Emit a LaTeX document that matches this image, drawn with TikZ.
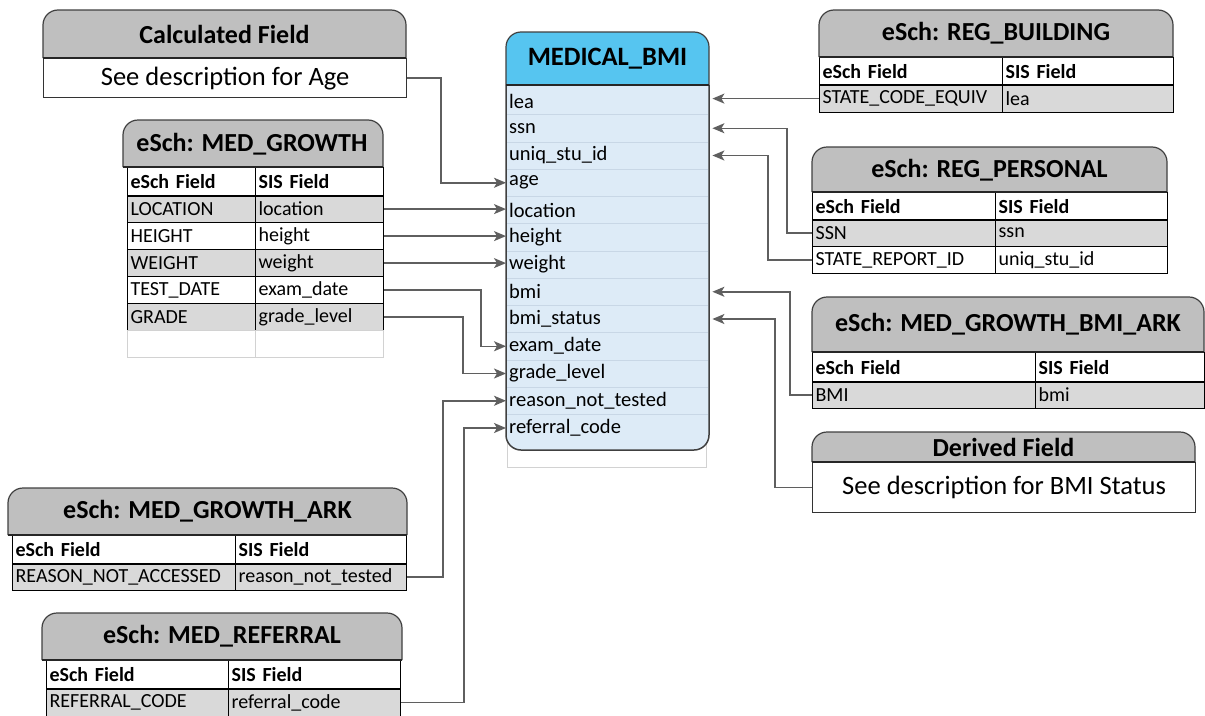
\documentclass[tikz,border=0pt]{standalone}
\usepackage{fontspec}
\setmainfont{Carlito}
\usetikzlibrary{arrows.meta}
\definecolor{hdrgray}{RGB}{191,191,191}
\definecolor{rowgray}{RGB}{217,217,217}
\definecolor{bmiblue}{RGB}{86,197,240}
\definecolor{bmibody}{RGB}{221,235,247}
\definecolor{linkgray}{RGB}{95,95,95}
\definecolor{faintline}{RGB}{210,210,210}
\definecolor{rowline}{RGB}{200,215,230}

\tikzset{
  hdr/.style={draw=black!75, line width=1.2pt, fill=hdrgray, rounded corners=15pt},
  hdrbase/.style={draw=black!85, line width=2pt},
  title/.style={inner sep=0pt, font=\bfseries\fontsize{26}{29}\selectfont},
  cell/.style={draw=black, line width=1.2pt, anchor=north west, minimum height=27pt,
    inner xsep=3pt, inner ysep=0pt, align=left, font=\fontsize{20}{22}\selectfont},
  hcell/.style={cell, fill=white, font=\bfseries\fontsize{20}{22}\selectfont},
  gcell/.style={cell, fill=rowgray},
  wcell/.style={cell, fill=white},
  ecell/.style={cell, draw=faintline},
  note/.style={draw=black!80, line width=1.2pt, fill=white, anchor=north west,
    inner sep=0pt, font=\fontsize{26.5}{29}\selectfont},
  field/.style={anchor=west, minimum height=27.25pt, text width=197pt, inner xsep=3pt,
    inner ysep=0pt, align=left, font=\fontsize{20.5}{22}\selectfont},
  sep/.style={draw=rowline, line width=0.8pt},
  hline/.style={draw=black, line width=2.5pt},
  link/.style={draw=linkgray, line width=1.5pt, -{Stealth[length=12pt,width=10pt,inset=3pt]}},
  rlink/.style={link, shorten >=3pt},
}

\begin{document}
\begin{tikzpicture}[x=1pt, y=-1pt]
  \useasboundingbox (0,0) rectangle (1205,715);

  % Calculated Field
  \draw[hdr] (43,58) -- (43,10) -- (406,10) -- (406,58);
  \node[title] (calcTitle) at (224.5,34) {Calculated Field};
  \node[note, minimum width=363pt, minimum height=39pt] (calcBody) at (43,58) {See description for Age};
  \draw[hdrbase] (43,58) -- (406,58);

  % MED_GROWTH
  \draw[hdr] (123,167) -- (123,120) -- (383,120) -- (383,167);
  \node[title] (growTitle) at (252,144) {eSch: MED\_GROWTH};
  \node[hcell, text width=122pt, minimum height=28pt] (gHeadA) at (127,167) {eSch Field};
  \node[hcell, text width=122pt, minimum height=28pt] (gHeadB) at (255,167) {SIS Field};
  \node[gcell, text width=122pt] (gLocA) at (127,195) {LOCATION};
  \node[gcell, text width=122pt] (gLoc) at (255,195) {location};
  \node[wcell, text width=122pt] (gHgtA) at (127,222) {HEIGHT};
  \node[wcell, text width=122pt] (gHgt) at (255,222) {height};
  \node[gcell, text width=122pt] (gWgtA) at (127,249) {WEIGHT};
  \node[gcell, text width=122pt] (gWgt) at (255,249) {weight};
  \node[wcell, text width=122pt] (gDateA) at (127,276) {TEST\_DATE};
  \node[wcell, text width=122pt] (gDate) at (255,276) {exam\_date};
  \node[gcell, text width=122pt] (gGradeA) at (127,303) {GRADE};
  \node[gcell, text width=122pt] (gGrade) at (255,303) {grade\_level};
  \node[ecell, text width=122pt, line width=0.8pt] (gEmptyA) at (127,330) {};
  \node[ecell, text width=122pt, line width=0.8pt] (gEmpty) at (255,330) {};
  \draw[hdrbase] (123,167) -- (383,167);
  \draw[hline] (gHeadA.south west) -- (gHeadB.south east);

  % MEDICAL_BMI
  \draw[faintline, line width=0.8pt] (507,440) rectangle (706,467);
  \draw[draw=black!75, line width=1.5pt, fill=bmibody, rounded corners=15pt]
    (506,85) -- (506,450) -- (709,450) -- (709,85);
  \draw[hdr, fill=bmiblue] (506,85) -- (506,32) -- (709,32) -- (709,85);
  \draw[hdrbase] (506,85) -- (709,85);
  \node[title, font=\bfseries\fontsize{26.5}{29}\selectfont] (bmiTitle) at (607.5,59) {MEDICAL\_BMI};
  \node[field] (mLea) at (506,101) {lea};
  \node[field] (mSsn) at (506,128.25) {ssn};
  \node[field] (mUniq) at (506,155.5) {uniq\_stu\_id};
  \node[field] (mAge) at (506,182.75) {age};
  \node[field] (mLocation) at (506,210) {location};
  \node[field] (mHeight) at (506,237.25) {height};
  \node[field] (mWeight) at (506,264.5) {weight};
  \node[field] (mBmi) at (506,291.75) {bmi};
  \node[field] (mStatus) at (506,319) {bmi\_status};
  \node[field] (mExam) at (506,346.25) {exam\_date};
  \node[field] (mGrade) at (506,373.5) {grade\_level};
  \node[field] (mReason) at (506,400.75) {reason\_not\_tested};
  \node[field] (mReferral) at (506,428) {referral\_code};
  \draw[sep] (mLea.south west) ++(1,0) -- ([xshift=-1pt]mLea.south east);
  \draw[sep] (mSsn.south west) ++(1,0) -- ([xshift=-1pt]mSsn.south east);
  \draw[sep] (mUniq.south west) ++(1,0) -- ([xshift=-1pt]mUniq.south east);
  \draw[sep] (mAge.south west) ++(1,0) -- ([xshift=-1pt]mAge.south east);
  \draw[sep] (mLocation.south west) ++(1,0) -- ([xshift=-1pt]mLocation.south east);
  \draw[sep] (mHeight.south west) ++(1,0) -- ([xshift=-1pt]mHeight.south east);
  \draw[sep] (mWeight.south west) ++(1,0) -- ([xshift=-1pt]mWeight.south east);
  \draw[sep] (mBmi.south west) ++(1,0) -- ([xshift=-1pt]mBmi.south east);
  \draw[sep] (mStatus.south west) ++(1,0) -- ([xshift=-1pt]mStatus.south east);
  \draw[sep] (mExam.south west) ++(1,0) -- ([xshift=-1pt]mExam.south east);
  \draw[sep] (mGrade.south west) ++(1,0) -- ([xshift=-1pt]mGrade.south east);
  \draw[sep] (mReason.south west) ++(1,0) -- ([xshift=-1pt]mReason.south east);

  % REG_BUILDING
  \draw[hdr] (819,57) -- (819,10) -- (1173,10) -- (1173,57);
  \node[title] (bldgTitle) at (996,33.5) {eSch: REG\_BUILDING};
  \node[hcell, text width=177pt] (bHeadA) at (819,57) {eSch Field};
  \node[hcell, text width=165pt] (bHeadB) at (1002,57) {SIS Field};
  \node[gcell, text width=177pt, minimum height=28pt] (bCodeA) at (819,84) {STATE\_CODE\_EQUIV};
  \node[gcell, text width=165pt, minimum height=28pt] (bCode) at (1002,84) {lea};
  \draw[hdrbase] (819,57) -- (1173,57);
  \draw[hline] (bHeadA.south west) -- (bHeadB.south east);

  % REG_PERSONAL
  \draw[hdr] (812,192) -- (812,147) -- (1167,147) -- (1167,192);
  \node[title] (persTitle) at (989.5,170) {eSch: REG\_PERSONAL};
  \node[hcell, text width=177pt] (pHeadA) at (812,192) {eSch Field};
  \node[hcell, text width=166pt] (pHeadB) at (995,192) {SIS Field};
  \node[gcell, text width=177pt] (pSsnA) at (812,219) {SSN};
  \node[gcell, text width=166pt] (pSsn) at (995,219) {ssn};
  \node[wcell, text width=177pt] (pIdA) at (812,246) {STATE\_REPORT\_ID};
  \node[wcell, text width=166pt] (pId) at (995,246) {uniq\_stu\_id};
  \draw[hdrbase] (812,192) -- (1167,192);
  \draw[hline] (pHeadA.south west) -- (pHeadB.south east);

  % MED_GROWTH_BMI_ARK
  \draw[hdr] (812,352) -- (812,297) -- (1204,297) -- (1204,352);
  \node[title] (bmiArkTitle) at (1008,324.5) {eSch: MED\_GROWTH\_BMI\_ARK};
  \node[hcell, text width=217pt, minimum height=29pt] (kHeadA) at (812,352) {eSch Field};
  \node[hcell, text width=163pt, minimum height=29pt] (kHeadB) at (1035,352) {SIS Field};
  \node[gcell, text width=217pt] (kBmiA) at (812,381) {BMI};
  \node[gcell, text width=163pt] (kBmi) at (1035,381) {bmi};
  \draw[hdrbase] (812,352) -- (1204,352);
  \draw[hline] (kHeadA.south west) -- (kHeadB.south east);

  % Derived Field
  \draw[hdr] (812,462) -- (812,432) -- (1195,432) -- (1195,462);
  \node[title] (derivTitle) at (1003.5,447) {Derived Field};
  \node[note, minimum width=383pt, minimum height=50pt] (derivBody) at (812,462) {See description for BMI Status};
  \draw[hdrbase] (812,462) -- (1195,462);

  % MED_GROWTH_ARK
  \draw[hdr] (8,535) -- (8,488) -- (407,488) -- (407,535);
  \node[title] (arkTitle) at (207.5,511.5) {eSch: MED\_GROWTH\_ARK};
  \node[hcell, text width=217pt, minimum height=28pt] (aHeadA) at (12,535) {eSch Field};
  \node[hcell, text width=165pt, minimum height=28pt] (aHeadB) at (235,535) {SIS Field};
  \node[gcell, text width=217pt] (aReasonA) at (12,563) {REASON\_NOT\_ACCESSED};
  \node[gcell, text width=165pt] (aReason) at (235,563) {reason\_not\_tested};
  \draw[hdrbase] (8,535) -- (407,535);
  \draw[hline] (aHeadA.south west) -- (aHeadB.south east);

  % MED_REFERRAL
  \draw[hdr] (42,660) -- (42,613) -- (402,613) -- (402,660);
  \node[title] (refTitle) at (222,636.5) {eSch: MED\_REFERRAL};
  \node[hcell, text width=176pt, minimum height=28pt] (rHeadA) at (46,660) {eSch Field};
  \node[hcell, text width=166pt, minimum height=28pt] (rHeadB) at (228,660) {SIS Field};
  \node[gcell, text width=176pt, minimum height=28pt] (rCodeA) at (46,688) {REFERRAL\_CODE};
  \node[gcell, text width=166pt, minimum height=28pt] (rCode) at (228,688) {referral\_code};
  \draw[hdrbase] (42,660) -- (402,660);
  \draw[hline] (rHeadA.south west) -- (rHeadB.south east);

  % links into MEDICAL_BMI, left side
  \draw[link] (calcBody.east) -- ++(34,0) |- (mAge.west);
  \draw[link] (gLoc.east) -- (gLoc.east -| mLocation.west);
  \draw[link] (gHgt.east) -- (gHgt.east -| mHeight.west);
  \draw[link] (gWgt.east) -- (gWgt.east -| mWeight.west);
  \draw[link] (gDate.east) -- ++(97,0) |- (mExam.west);
  \draw[link] (gGrade.east) -- ++(79,0) |- (mGrade.west);
  \draw[link] (aReason.east) -- ++(36,0) |- (mReason.west);
  \draw[link] (rCode.east) -- ++(63,0) |- (mReferral.west);

  % links into MEDICAL_BMI, right side
  \draw[rlink] (bCodeA.west) -- (bCodeA.west -| mLea.east);
  \draw[rlink] (pSsnA.west) -- ++(-25,0) |- (mSsn.east);
  \draw[rlink] (pIdA.west) -- ++(-44,0) |- (mUniq.east);
  \draw[rlink] (kBmiA.west) -- ++(-22,0) |- (mBmi.east);
  \draw[rlink] (derivBody.west) -- ++(-37,0) |- (mStatus.east);
\end{tikzpicture}
\end{document}
